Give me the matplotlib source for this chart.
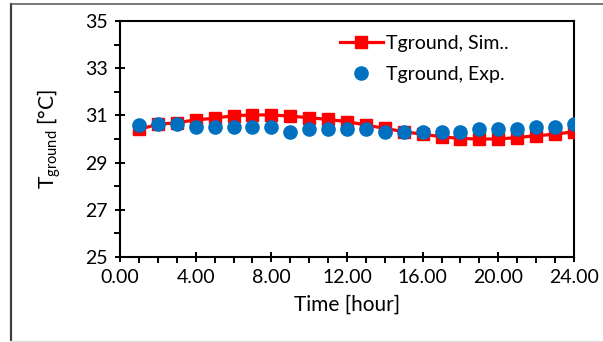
import matplotlib
matplotlib.use("Agg")
import matplotlib.pyplot as plt
from matplotlib.lines import Line2D

plt.rcParams['font.family'] = ['Lato', 'DejaVu Sans']
plt.rcParams['mathtext.default'] = 'regular'

hours = [1, 2, 3, 4, 5, 6, 7, 8, 9, 10, 11, 12, 13, 14, 15, 16, 17, 18, 19, 20, 21, 22, 23, 24]
t_sim = [30.41, 30.62, 30.69, 30.81, 30.88, 30.99, 31.02, 31.02, 30.97, 30.90, 30.83, 30.74,
         30.59, 30.45, 30.31, 30.20, 30.10, 30.02, 30.00, 30.00, 30.06, 30.14, 30.20, 30.31]
t_exp = [30.59, 30.62, 30.64, 30.52, 30.52, 30.52, 30.52, 30.52, 30.31, 30.41, 30.41, 30.41,
         30.41, 30.31, 30.31, 30.28, 30.28, 30.31, 30.41, 30.41, 30.41, 30.52, 30.52, 30.62]
x_ticks = [0, 4, 8, 12, 16, 20, 24]
y_ticks = [25, 27, 29, 31, 33, 35]

W, H = 603, 342
fig = plt.figure(figsize=(W / 100, H / 100), dpi=100)
ax = fig.add_axes([120 / W, 1 - 257 / H, (574 - 120) / W, (257 - 21) / H])

ax.plot(hours, t_sim, color='#FF0000', lw=2.3, marker='s', markersize=9,
        label='Tground, Sim..', zorder=3)
ax.plot(hours, t_exp, color='#0070C0', lw=0, marker='o', markersize=9.5,
        label='Tground, Exp.', zorder=4)

ax.set_xlim(0, 24)
ax.set_ylim(25, 35)
ax.set_xticks(x_ticks)
ax.set_xticklabels([f"{v:.2f}" for v in x_ticks])
ax.set_yticks(y_ticks)
ax.set_xticks(range(0, 25), minor=True)
ax.set_yticks(range(25, 36), minor=True)

for s in ax.spines.values():
    s.set_linewidth(1.5)
    s.set_color('black')

ax.tick_params(axis='both', which='major', direction='inout', length=7.5, width=1.4,
               labelsize=14, colors='black')
ax.tick_params(axis='x', which='major', pad=5)
ax.tick_params(axis='y', which='major', pad=5)
ax.tick_params(axis='both', which='minor', direction='out', length=4, width=1.4)

ax.set_xlabel('Time [hour]', fontsize=15, labelpad=6)
ax.set_ylabel('T$_{ground}$ [°C]', fontsize=15, labelpad=16)

leg = ax.legend(loc='upper left', bbox_to_anchor=(0.467, 0.975), borderaxespad=0,
                frameon=False, fontsize=14, handlelength=2.2, handletextpad=0.2,
                labelspacing=0.75)

# outer frame
fig.add_artist(Line2D([10.5 / W, 10.5 / W], [1 - 4 / H, 1 - 340 / H], transform=fig.transFigure,
                      color='#404040', lw=1.6))
fig.add_artist(Line2D([10.5 / W, 1.0], [1 - 4 / H, 1 - 4 / H], transform=fig.transFigure,
                      color='#606060', lw=1.2))
fig.add_artist(Line2D([10.5 / W, 1.0], [1 - 340.5 / H, 1 - 340.5 / H], transform=fig.transFigure,
                      color='#E0E0E0', lw=1.0))

fig.savefig('out.png', dpi=100)
